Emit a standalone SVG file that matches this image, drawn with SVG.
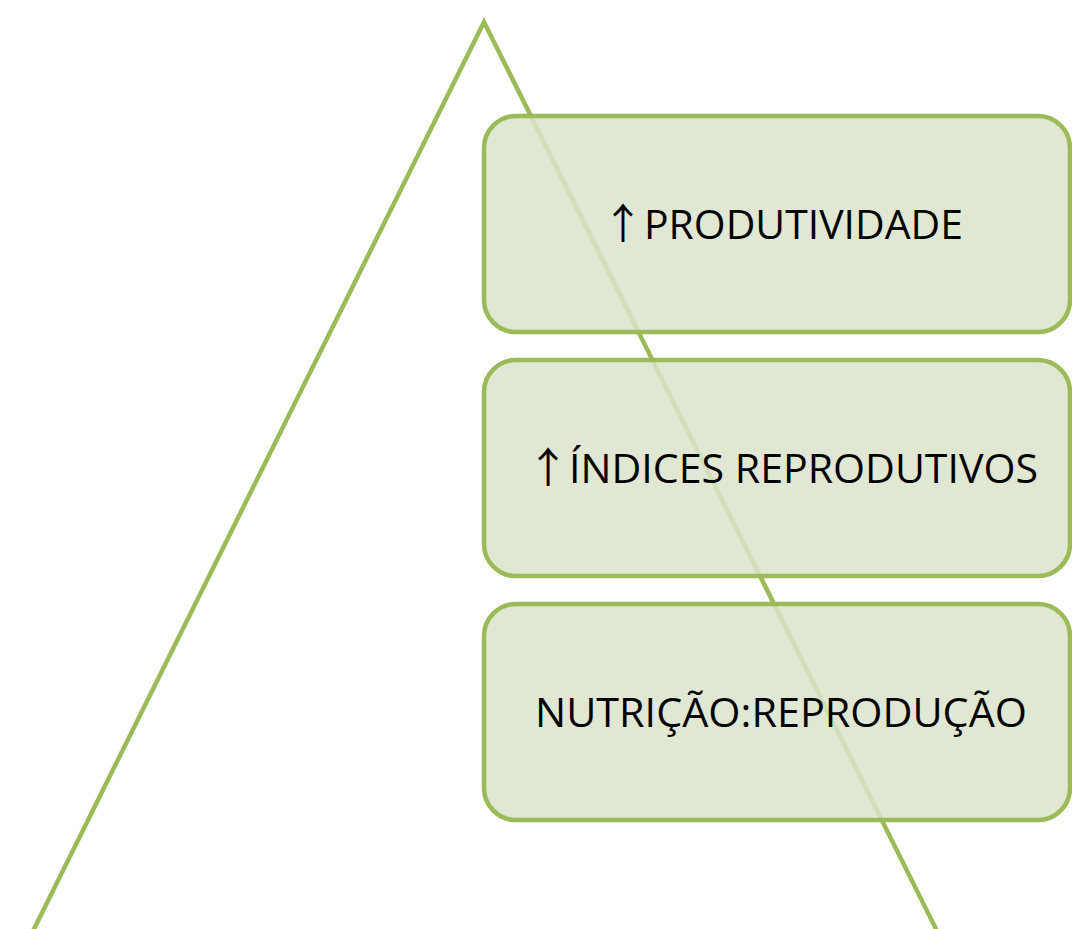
<svg xmlns="http://www.w3.org/2000/svg" width="1072" height="929" viewBox="0 0 1072 929">
  <style>
    .tri { fill: none; stroke: #9bbb59; stroke-width: 4.5; stroke-linejoin: miter; }
    .box { fill: #dbe4cb; fill-opacity: 0.85; stroke: #9bbb59; stroke-width: 4.5; }
    .lbl { font-family: "Open Sans", "DejaVu Sans", sans-serif; font-size: 41px; fill: #000000; text-anchor: middle; }
    .arr { font-family: "Noto Sans CJK JP", "DejaVu Sans", sans-serif; font-size: 42px; }
  </style>
  <rect width="1072" height="929" fill="#ffffff"/>
  <g id="connectors">
    <polyline class="tri" points="32,933 484,22 938,933"/>
  </g>
  <g id="node-produtividade">
    <rect class="box" x="484" y="116" width="586" height="216" rx="32" ry="32"/>
    <text class="lbl" x="782.5" y="239" textLength="361" lengthAdjust="spacingAndGlyphs"><tspan class="arr">↑</tspan>PRODUTIVIDADE</text>
  </g>
  <g id="node-indices">
    <rect class="box" x="484" y="360" width="586" height="216" rx="32" ry="32"/>
    <text class="lbl" x="782.5" y="483" textLength="511" lengthAdjust="spacingAndGlyphs"><tspan class="arr">↑</tspan>ÍNDICES REPRODUTIVOS</text>
  </g>
  <g id="node-nutricao">
    <rect class="box" x="484" y="604" width="586" height="216" rx="32" ry="32"/>
    <text class="lbl" x="781" y="727" textLength="492" lengthAdjust="spacingAndGlyphs">NUTRIÇÃO:REPRODUÇÃO</text>
  </g>
</svg>
